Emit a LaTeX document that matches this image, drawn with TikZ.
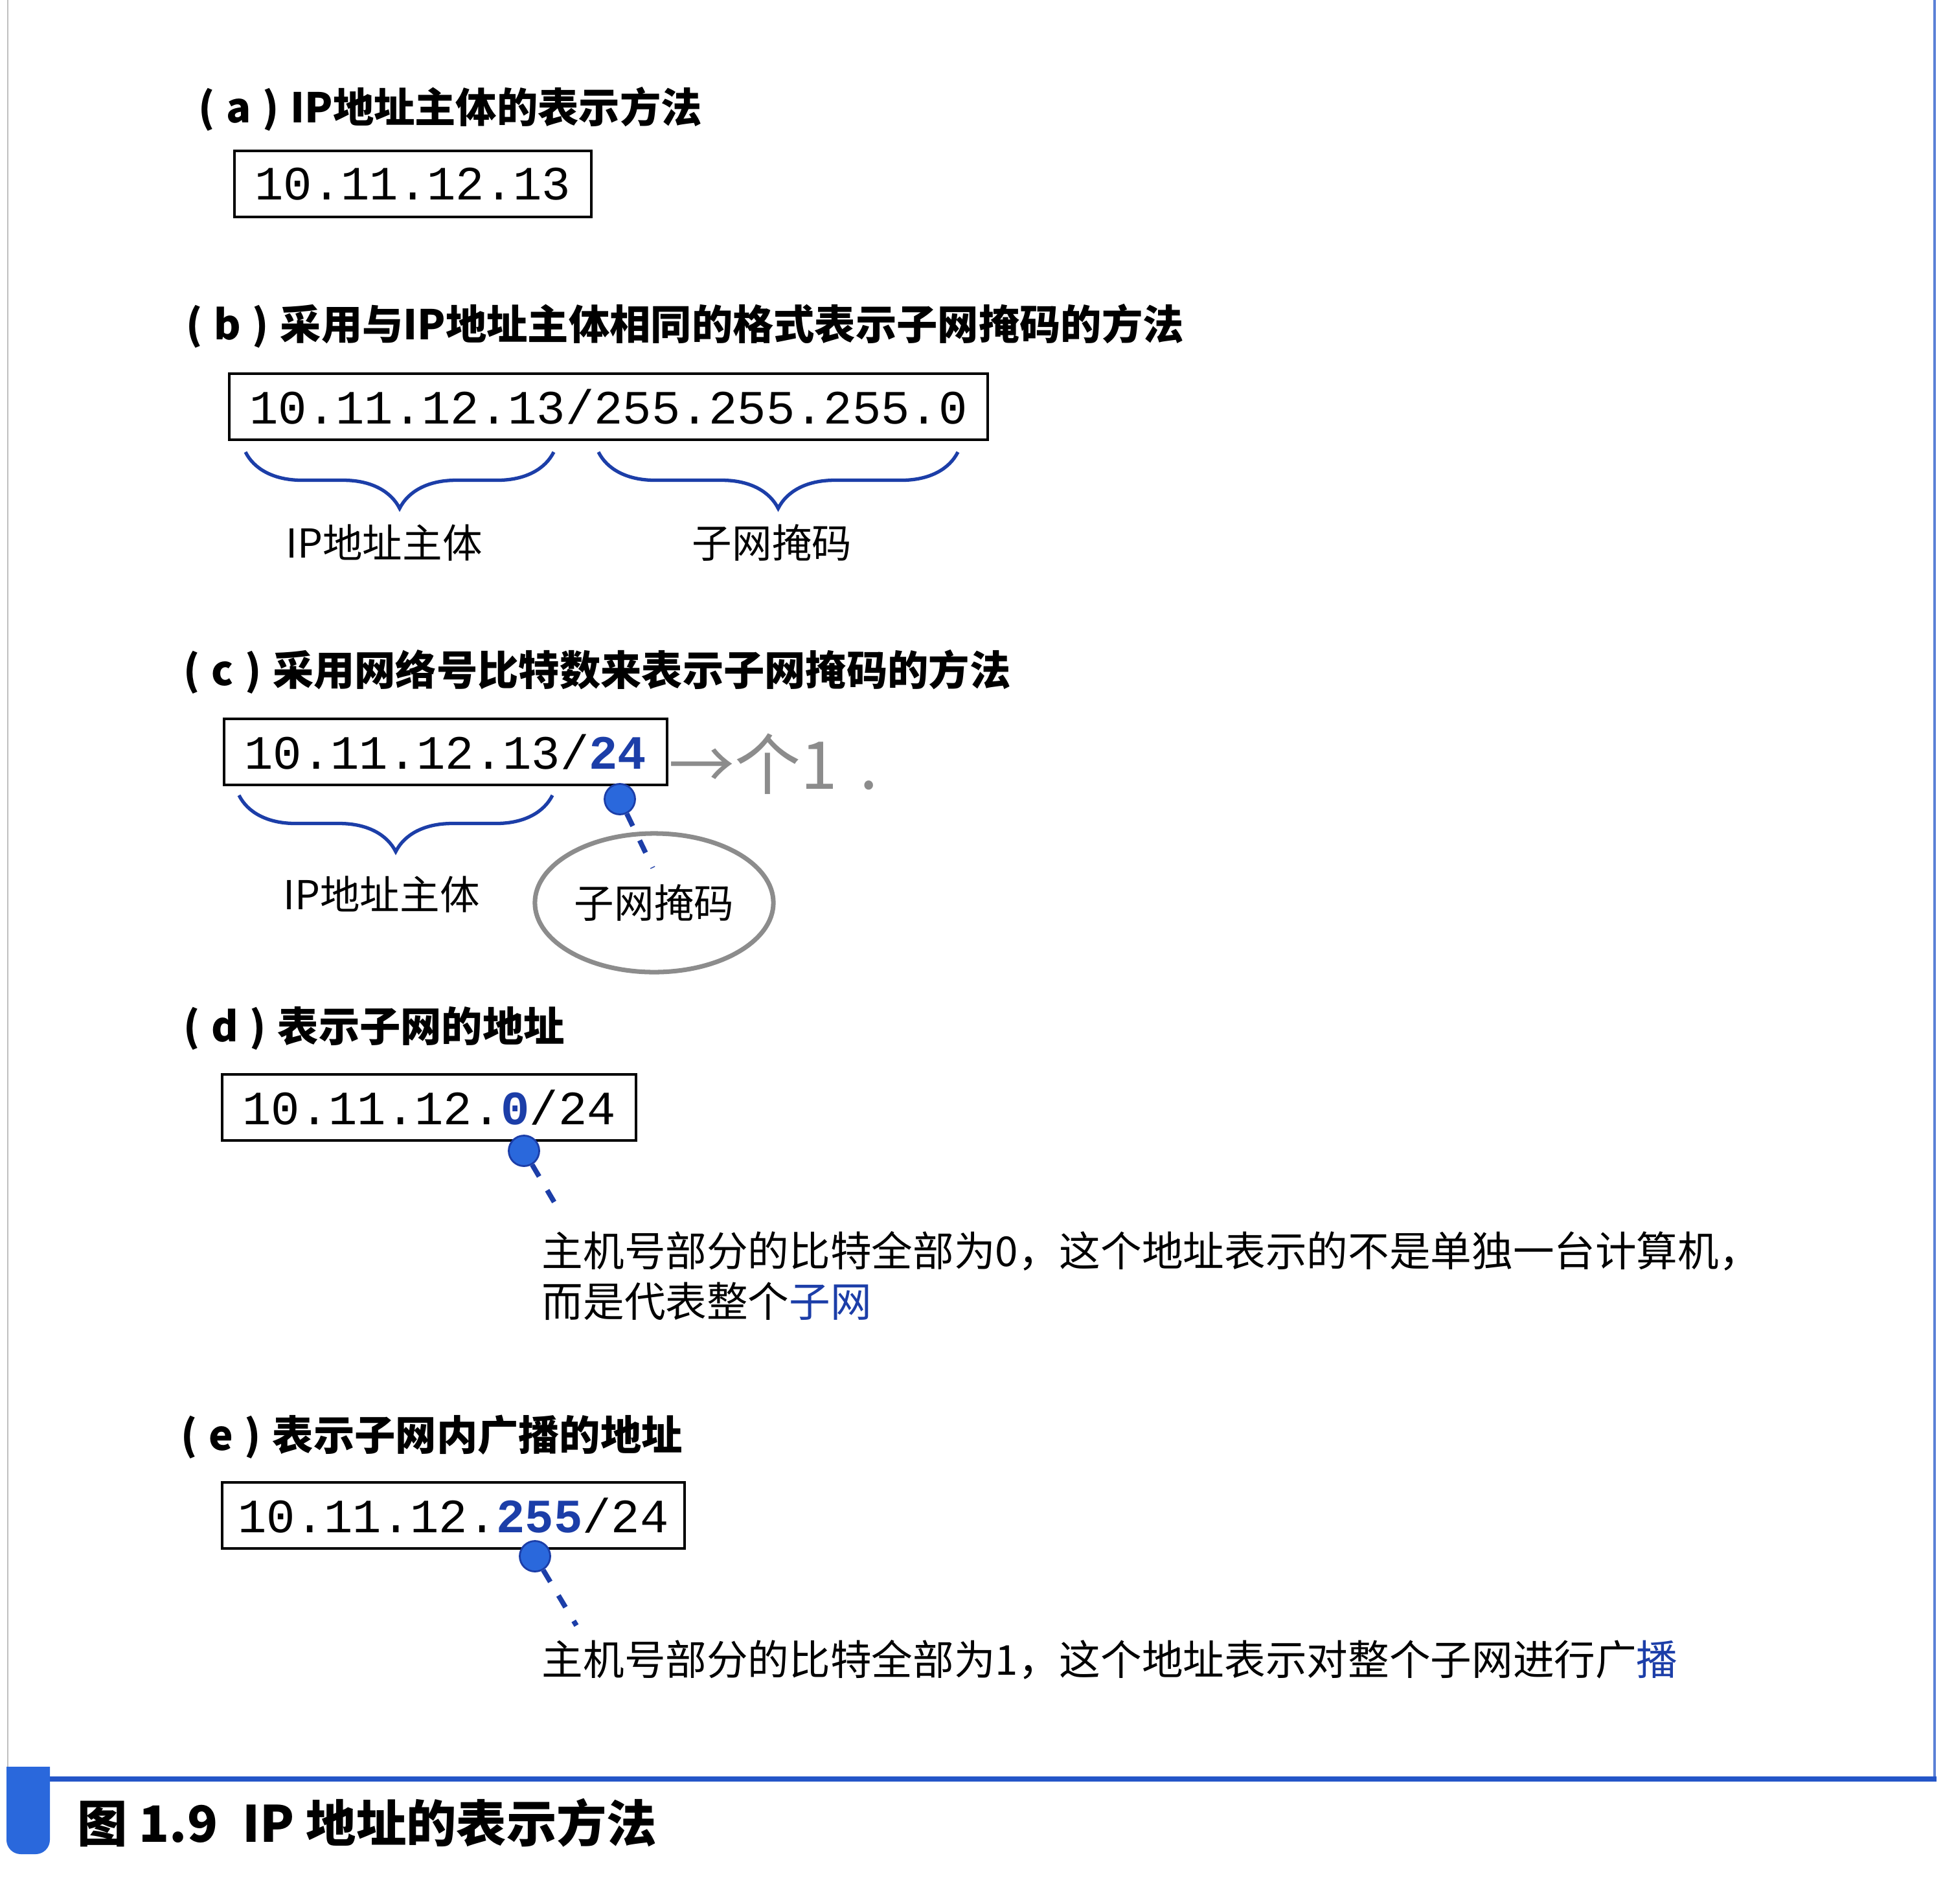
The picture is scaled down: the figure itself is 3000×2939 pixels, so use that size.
\documentclass[tikz,border=0pt]{standalone}
\usepackage{fontspec}
\setmainfont{Noto Sans CJK SC}
\setmonofont{Liberation Mono}
\usetikzlibrary{positioning}
\usetikzlibrary{shapes.geometric}
\usetikzlibrary{decorations.pathreplacing}
\definecolor{navy}{RGB}{28,62,168}
\definecolor{dotblue}{RGB}{42,104,220}
\definecolor{frameblue}{RGB}{36,86,200}
\definecolor{pencil}{RGB}{140,140,140}
\tikzset{addr/.style={draw, line width=1.15pt, anchor=west, inner xsep=9pt, minimum height=1.02cm, font=\ttfamily\fontsize{21pt}{24pt}\selectfont}}
\tikzset{head/.style={anchor=west, inner sep=0pt, font=\bfseries\fontsize{18pt}{21pt}\selectfont}}
\tikzset{lbl/.style={inner sep=0pt, font=\fontsize{17.5pt}{22pt}\selectfont}}
\tikzset{note/.style={anchor=west, inner sep=0pt, font=\fontsize{18.1pt}{22pt}\selectfont}}
\tikzset{dot/.style={circle, fill=dotblue, draw=navy, line width=0.8pt, minimum size=0.47cm, inner sep=0pt}}
\tikzset{lead/.style={navy, line width=2.2pt, dash pattern=on 6pt off 7pt}}
\tikzset{brc/.style={navy, line width=1.5pt, decorate, decoration={brace, mirror, amplitude=0.87cm}}}
\newcommand{\bluepart}[1]{\textbf{\textcolor{navy}{#1}}}
\newcommand{\tag}[1]{(\;#1\;)\;}

\begin{document}
\begin{tikzpicture}[x=0.01cm, y=-0.01cm]
        \useasboundingbox (0,0) rectangle (3000,2939);
        \fill[white] (0,0) rectangle (3000,2939);

        \node[head] (ha) at (306,168) {\tag{a}IP地址主体的表示方法};
        \node[addr] (a) at (360,284) {10.11.12.13};

        \node[head] (hb) at (287,503) {\tag{b}采用与IP地址主体相同的格式表示子网掩码的方法};
        \node[addr] (b) at (352,628) {10.11.12.13/255.255.255.0};
        \coordinate (b1) at (379,698);
        \coordinate (b2) at (855,698);
        \coordinate (b3) at (924,698);
        \coordinate (b4) at (1479,698);
        \draw[brc] (b1) -- (b2);
        \draw[brc] (b3) -- (b4);
        \node[lbl] (bhost) at (593,838) {IP地址主体};
        \node[lbl] (bmask) at (1192,838) {子网掩码};

        \node[head] (hc) at (283,1037) {\tag{c}采用网络号比特数来表示子网掩码的方法};
        \node[addr] (c) at (344,1161) {10.11.12.13/\bluepart{24}};
        \node[anchor=west, inner sep=0pt, pencil, font=\fontsize{29pt}{30pt}\selectfont] (hand) at (1032,1180) {→个1\,\,.};
        \coordinate (c1) at (369,1228);
        \coordinate (c2) at (853,1228);
        \draw[brc] (c1) -- (c2);
        \node[lbl] (chost) at (589,1381) {IP地址主体};
        \node[dot] (cdot) at (957,1234) {};
        \node[lbl, ellipse, draw=pencil, line width=2pt, minimum width=3.68cm, minimum height=2.14cm] (cmask) at (1010,1394) {子网掩码};
        \coordinate (cend) at (1008,1340);
        \draw[lead] (cdot) -- (cend);

        \node[head] (hd) at (283,1588) {\tag{d}表示子网的地址};
        \node[addr] (d) at (341,1710) {10.11.12.\bluepart{0}/24};
        \node[dot] (ddot) at (809,1777) {};
        \coordinate (dend) at (868,1877);
        \draw[lead] (ddot) -- (dend);
        \node[note, align=left] (dtext) at (836,1970) {主机号部分的比特全部为0，这个地址表示的不是单独一台计算机，\\而是代表整个\textcolor{navy}{子网}};

        \node[head] (he) at (279,2219) {\tag{e}表示子网内广播的地址};
        \node[addr, inner xsep=7pt] (e) at (341,2340) {10.11.12.\bluepart{255}/24};
        \node[dot] (edot) at (826,2403) {};
        \coordinate (eend) at (890,2510);
        \draw[lead] (edot) -- (eend);
        \node[note] (etext) at (836,2563) {主机号部分的比特全部为1，这个地址表示对整个子网进行广\textcolor{navy}{播}};

        \draw[gray!50, line width=0.5pt] (12,0) -- (12,2747);
        \draw[frameblue!75, line width=1.2pt] (2987,0) -- (2987,2747);
        \draw[frameblue, line width=2.3pt] (12,2747) -- (2990,2747);
        \fill[dotblue] (10,2728) [rounded corners=0.22cm] -- (10,2863) -- (77,2863) [sharp corners] -- (77,2728) -- cycle;
        \node[anchor=west, inner sep=0pt, font=\bfseries\fontsize{22pt}{26pt}\selectfont] (cap) at (119,2815) {图 1.9\hspace{0.5em}IP 地址的表示方法};
\end{tikzpicture}
\end{document}
